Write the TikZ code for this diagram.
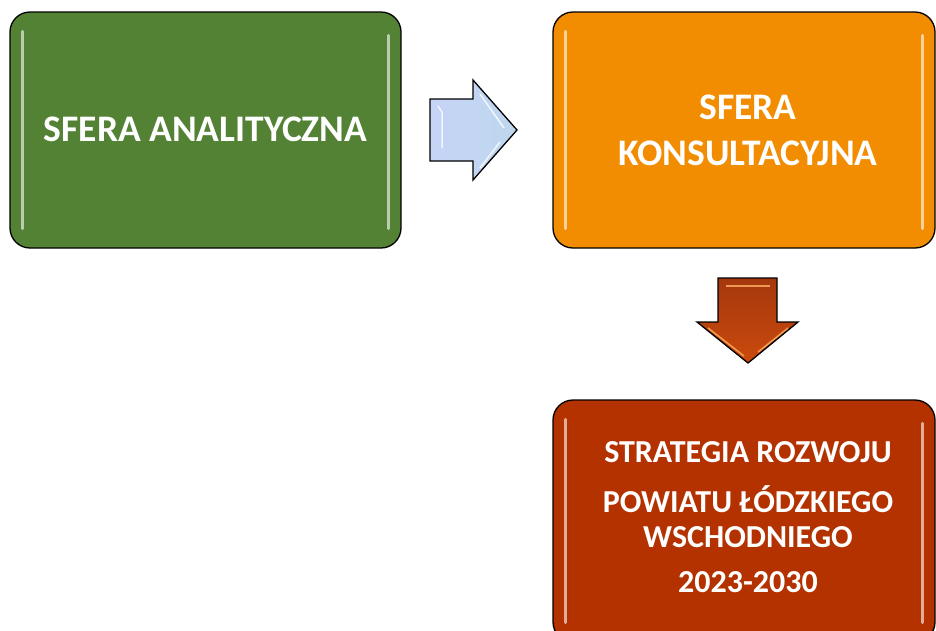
\documentclass[tikz,border=0pt]{standalone}
\usepackage{fontspec}
\setmainfont{Carlito}
\usetikzlibrary{calc}
\definecolor{boxgreen}{HTML}{548235}
\definecolor{boxorange}{HTML}{F28C00}
\definecolor{boxred}{HTML}{B33200}
\definecolor{arrblue}{HTML}{BDD7EE}
\definecolor{arrred}{HTML}{C2410F}
\begin{document}
\begin{tikzpicture}[x=1pt,y=-1pt,
  panel/.style={draw=black, line width=1.3pt, rounded corners=20pt, inner sep=0pt},
  lbl/.style={text=white, font=\bfseries\fontsize{37.5}{46}\selectfont, align=center},
  gloss/.style={line width=3pt, line cap=round, draw=white, opacity=0.6},
  blockarrow/.style={draw=black, line width=1.3pt, line join=miter}]
\useasboundingbox (0,0) rectangle (936,630);
\clip (0,0) rectangle (936,630);
% boxes
\node[panel, fill=boxgreen, minimum width=391pt, minimum height=236pt] (ana) at (205.5,130) {};
\node[panel, fill=boxorange, minimum width=382pt, minimum height=236pt] (kon) at (744,130) {};
\node[panel, fill=boxred, minimum width=382pt, minimum height=242pt] (str) at (744,521) {};
% gloss highlights
\foreach \n in {ana,kon,str}{
  \draw[gloss] ([xshift=13pt,yshift=-20pt]\n.north west) -- ([xshift=13pt,yshift=20pt]\n.south west);
  \draw[gloss] ([xshift=-13pt,yshift=-24pt]\n.north east) -- ([xshift=-13pt,yshift=20pt]\n.south east);
}
% labels
\node[lbl] (tana) at (205.5,129) {SFERA ANALITYCZNA};
\node[lbl] (tkon) at (748,130) {SFERA\\KONSULTACYJNA};
\node[text=white, font=\bfseries\fontsize{32}{35}\selectfont, align=center] (tstr) at (748,517)
  {STRATEGIA ROZWOJU\\[15pt] POWIATU ŁÓDZKIEGO\\WSCHODNIEGO\\[10pt]2023-2030};
% right block arrow
\coordinate (ra) at (430,130);
\shade[left color=arrblue!85!blue!60!white, right color=arrblue, blockarrow]
  ($(ra)+(0,-31)$) -- ($(ra)+(43,-31)$) -- ($(ra)+(43,-50)$) -- ($(ra)+(87,0)$)
  -- ($(ra)+(43,50)$) -- ($(ra)+(43,31)$) -- ($(ra)+(0,31)$) -- cycle;
\draw[white, line width=1.5pt, opacity=0.8] ($(ra)+(8,-24)$) -- ($(ra)+(12,-18)$) -- ($(ra)+(12,18)$);
\draw[white, line width=1.5pt, opacity=0.8] ($(ra)+(50,-36)$) -- ($(ra)+(74,-2)$);
\draw[white, line width=1.5pt, opacity=0.8] ($(ra)+(50,38)$) -- ($(ra)+(70,12)$);
% down block arrow
\coordinate (da) at (748,278);
\shade[top color=arrred!85!black, bottom color=arrred!85!orange, blockarrow]
  ($(da)+(-30,0)$) -- ($(da)+(29,0)$) -- ($(da)+(29,44)$) -- ($(da)+(50,44)$) -- ($(da)+(0,85)$)
  -- ($(da)+(-51,44)$) -- ($(da)+(-30,44)$) -- cycle;
\draw[orange!60!white, line width=1.5pt, opacity=0.8] ($(da)+(-22,8)$) -- ($(da)+(22,8)$);
\draw[orange!60!white, line width=1.5pt, opacity=0.8] ($(da)+(-40,50)$) -- ($(da)+(-4,78)$);
\draw[orange!60!white, line width=1.5pt, opacity=0.8] ($(da)+(40,50)$) -- ($(da)+(10,74)$);
\end{tikzpicture}
\end{document}
